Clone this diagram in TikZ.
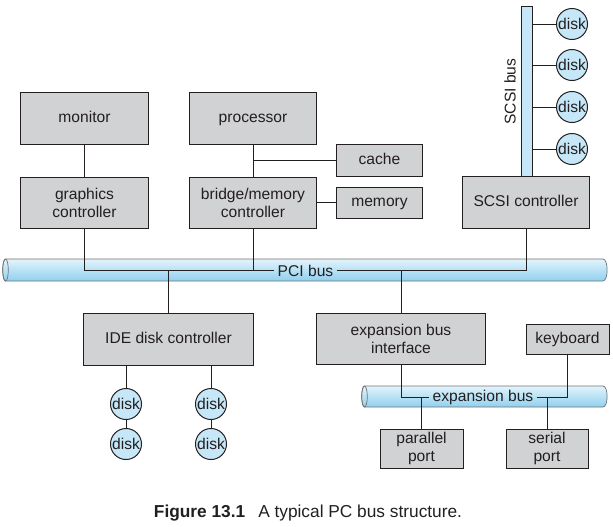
\documentclass[tikz,border=0pt]{standalone}
\usepackage{fontspec}
\setmainfont{Liberation Sans}
\usepackage{xcolor}
\definecolor{boxgray}{HTML}{D1D2D4}
\definecolor{diskblue}{HTML}{C6E7F7}
\definecolor{bustop}{HTML}{E3F4FC}
\definecolor{busbottom}{HTML}{8FD0EF}
\definecolor{inkgray}{HTML}{231F20}
\begin{document}
\begin{tikzpicture}[x=0.025cm, y=-0.025cm, line width=0.7pt,
  font=\fontsize{11.1}{12.8}\selectfont,
  unit/.style={draw=inkgray, fill=boxgray, rectangle, align=center, text=inkgray, inner sep=1pt},
  oneline/.style={text height=1.6ex, text depth=0.45ex},
  disk/.style={draw=inkgray, fill=diskblue, circle, minimum size=0.775cm, inner sep=0pt, text=inkgray},
  wire/.style={draw=inkgray},
  buslabel/.style={inner sep=2pt, text=inkgray}]
\useasboundingbox (0,0) rectangle (613,527);

% PCI bus and expansion bus tubes
\shade[top color=bustop, bottom color=busbottom, draw=black!55, line width=0.5pt]
  (5.5,259) -- (603,259) .. controls (608.5,259) and (608.5,281) .. (603,281)
  -- (5.5,281) .. controls (1.8,281) and (1.8,259) .. (5.5,259) -- cycle;
\draw[black!55, line width=0.5pt] (5.5,270) ellipse (2.8 and 11);
\shade[top color=bustop, bottom color=busbottom, draw=black!55, line width=0.5pt]
  (364.5,386) -- (603,386) .. controls (608.5,386) and (608.5,407) .. (603,407)
  -- (364.5,407) .. controls (360.8,407) and (360.8,386) .. (364.5,386) -- cycle;
\draw[black!55, line width=0.5pt] (364.5,396.5) ellipse (2.8 and 10.5);

\node[unit, oneline, minimum width=3.175cm, minimum height=1.3cm] (monitor) at (84.5,118) {monitor};
\node[unit, oneline, minimum width=3.15cm, minimum height=1.3cm] (processor) at (253,118) {processor};
\node[unit, minimum width=3.175cm, minimum height=1.275cm] (graphics) at (84.5,202.5) {graphics\\controller};
\node[unit, minimum width=3.15cm, minimum height=1.275cm] (bridge) at (253,202.5) {bridge/memory\\controller};
\node[unit, oneline, minimum width=2.125cm, minimum height=0.8cm] (cache) at (379.5,160) {cache};
\node[unit, oneline, minimum width=2.125cm, minimum height=0.775cm] (memory) at (379.5,202.5) {memory};
\draw[wire] (monitor) -- (graphics);
\draw[wire] (processor) -- (bridge);
\draw[wire] (cache.west) -- (cache.west -| processor.south);
\draw[wire] (memory) -- (bridge);

% SCSI side
\node[unit, oneline, minimum width=3.15cm, minimum height=1.3cm] (scsi) at (526,202) {SCSI controller};
\node[draw=inkgray, fill=diskblue, minimum width=0.275cm, minimum height=4.225cm, inner sep=0pt] (scsibus) at (526.5,91.5) {};
\node[buslabel, rotate=90] (scsilabel) at (510,91.5) {SCSI bus};
\foreach \i/\y in {1/24,2/65,3/107,4/149} {
  \node[disk] (scsidisk\i) at (572,\y) {disk};
  \draw[wire] (scsibus.east |- scsidisk\i) -- (scsidisk\i.west);
}

% PCI bus wiring
\node[buslabel] (pci) at (305.5,270.5) {PCI bus};
\draw[wire] (graphics.south) |- (pci.west);
\draw[wire] (pci.east) -| (scsi.south);
\draw[wire] (bridge.south) -- (bridge.south |- pci.west);

\node[unit, oneline, minimum width=4.225cm, minimum height=1.3cm] (ide) at (168.5,339) {IDE disk controller};
\node[unit, minimum width=4.2cm, minimum height=1.275cm] (ebi) at (401,338.5) {expansion bus\\interface};
\draw[wire] (ide.north) -- (ide.north |- pci.west);
\draw[wire] (ebi.north) -- (ebi.north |- pci.east);

\foreach \c/\x in {a/126,b/211} {
  \node[disk] (idedisk\c1) at (\x,404) {disk};
  \node[disk] (idedisk\c2) at (\x,444) {disk};
  \draw[wire] (ide.south -| idedisk\c1) -- (idedisk\c1);
  \draw[wire] (idedisk\c1) -- (idedisk\c2);
}

% expansion bus wiring
\node[buslabel] (exp) at (483,397) {expansion bus};
\node[unit, oneline, minimum width=2.075cm, minimum height=0.75cm] (keyboard) at (567.5,339) {keyboard};
\node[unit, minimum width=2.075cm, minimum height=0.975cm] (parallel) at (421.5,448.5) {parallel\\port};
\node[unit, minimum width=2.05cm, minimum height=0.975cm] (serial) at (547,448.5) {serial\\port};
\draw[wire] (ebi.south) |- (exp.west);
\draw[wire] (exp.east) -| (keyboard.south);
\draw[wire] (parallel.north) -- (parallel.north |- exp.west);
\draw[wire] (serial.north) -- (serial.north |- exp.east);

\node[font=\fontsize{12.3}{14}\selectfont, text=inkgray] (caption) at (308,513) {\textbf{Figure 13.1}\hspace{0.75em}A typical PC bus structure.};
\end{tikzpicture}
\end{document}
